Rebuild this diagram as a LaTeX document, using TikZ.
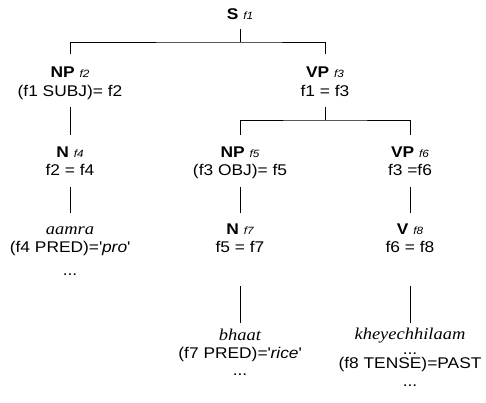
\documentclass[tikz,border=0pt]{standalone}
\usepackage{fontspec}
\setmainfont{Liberation Sans}[FakeStretch=1.12]
\newfontfamily\lexfont{Liberation Serif}[FakeStretch=1.12]
\usetikzlibrary{calc}
\newcommand\fsub[1]{{\fontsize{10.5}{12}\selectfont\itshape #1}}
\begin{document}
\begin{tikzpicture}[x=1pt,y=-1pt,
  lab/.style={anchor=base, inner sep=0pt, font=\fontsize{15.5}{17}\selectfont},
  lex/.style={anchor=base, inner sep=0pt, font=\fontsize{16.5}{18}\selectfont\lexfont\itshape},
  edge/.style={draw=black, line width=0.8pt}]
\useasboundingbox[fill=white] (0,0) rectangle (486,402);
\node[lab] (s) at (240,19) {\textbf{S} \fsub{f1}};
\node[lab] (np2) at (70,77) {\textbf{NP} \fsub{f2}};
\node[lab] (np2e) at (70,96) {(f1 SUBJ)= f2};
\node[lab] (vp3) at (325,77) {\textbf{VP} \fsub{f3}};
\node[lab] (vp3e) at (325,96) {f1 = f3};
\node[lab] (n4) at (70,157) {\textbf{N} \fsub{f4}};
\node[lab] (n4e) at (70,175) {f2 = f4};
\node[lab] (np5) at (240,157) {\textbf{NP} \fsub{f5}};
\node[lab] (np5e) at (240,175) {(f3 OBJ)= f5};
\node[lab] (vp6) at (410,157) {\textbf{VP} \fsub{f6}};
\node[lab] (vp6e) at (410,175) {f3 =f6};
\node[lex] (w1) at (70,234) {aamra};
\node[lab] (w1a) at (70,252) {(f4 PRED)=\textquotesingle\textit{pro}\textquotesingle};
\node[lab] (w1b) at (70,275) {...};
\node[lab] (n7) at (240,234) {\textbf{N} \fsub{f7}};
\node[lab] (n7e) at (240,252) {f5 = f7};
\node[lab] (v8) at (410,234) {\textbf{V} \fsub{f8}};
\node[lab] (v8e) at (410,252) {f6 = f8};
\node[lex] (w2) at (240,340) {bhaat};
\node[lab] (w2a) at (240,358) {(f7 PRED)=\textquotesingle\textit{rice}\textquotesingle};
\node[lab] (w2b) at (240,375) {...};
\node[lex] (w3) at (410,339) {kheyechhilaam};
\node[lab] (w3a) at (410,354) {...};
\node[lab] (w3b) at (410,368) {(f8 TENSE)=PAST};
\node[lab] (w3c) at (410,386) {...};
\draw[edge] ($(s.base)+(0,10)$) -- ($(s.base)+(0,23)$) coordinate (j1);
\draw[edge] ($(np2.base)+(0,-23)$) |- (j1) -| ($(vp3.base)+(0,-23)$);
\draw[edge] ($(np2e.base)+(0,11)$) -- ($(n4.base)+(0,-22)$);
\draw[edge] ($(vp3e.base)+(0,11)$) -- ($(vp3e.base)+(0,24)$) coordinate (j2);
\draw[edge] ($(np5.base)+(0,-22)$) |- (j2) -| ($(vp6.base)+(0,-22)$);
\draw[edge] ($(n4e.base)+(0,12)$) -- ($(w1.base)+(0,-21)$);
\draw[edge] ($(np5e.base)+(0,12)$) -- ($(n7.base)+(0,-21)$);
\draw[edge] ($(vp6e.base)+(0,12)$) -- ($(v8.base)+(0,-21)$);
\draw[edge] ($(n7e.base)+(0,34)$) -- ($(w2.base)+(0,-17)$);
\draw[edge] ($(v8e.base)+(0,34)$) -- ($(w3.base)+(0,-16)$);
\end{tikzpicture}
\end{document}
